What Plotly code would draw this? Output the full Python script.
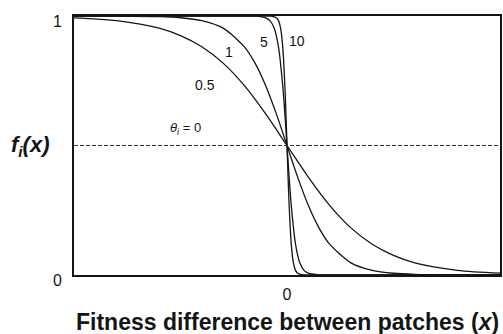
import plotly.graph_objects as go

# Values
x_05 = [-10, -8, -6, -5, -4, -3, -2, -1, 0, 1, 2, 3, 4, 5, 6, 8, 10]
y_05 = [0.993, 0.982, 0.953, 0.924, 0.881, 0.818, 0.731, 0.622, 0.5,
        0.378, 0.269, 0.182, 0.119, 0.076, 0.047, 0.018, 0.007]

x_1 = [-10, -8, -6, -5, -4, -3, -2, -1.5, -1, -0.5, 0, 0.5, 1, 1.5, 2, 3, 4, 5, 6, 8, 10]
y_1 = [1.0, 0.9997, 0.9975, 0.9933, 0.982, 0.953, 0.881, 0.818, 0.731, 0.622, 0.5,
       0.378, 0.269, 0.182, 0.119, 0.047, 0.018, 0.0067, 0.0025, 0.0003, 0.0]

x_5 = [-10, -3, -2, -1.5, -1, -0.8, -0.6, -0.4, -0.2, -0.1, 0, 0.1, 0.2, 0.4, 0.6, 0.8, 1, 1.5, 2, 3, 10]
y_5 = [1.0, 1.0, 0.99995, 0.9994, 0.993, 0.982, 0.953, 0.881, 0.731, 0.622, 0.5,
       0.378, 0.269, 0.119, 0.047, 0.018, 0.007, 0.0006, 0.00005, 0.0, 0.0]

x_10 = [-10, -1.5, -1, -0.75, -0.5, -0.4, -0.3, -0.2, -0.1, -0.05, 0, 0.05, 0.1, 0.2, 0.3, 0.4, 0.5, 0.75, 1, 1.5, 10]
y_10 = [1.0, 1.0, 0.99995, 0.9994, 0.993, 0.982, 0.953, 0.881, 0.731, 0.622, 0.5,
        0.378, 0.269, 0.119, 0.047, 0.018, 0.007, 0.0006, 0.00005, 0.0, 0.0]

x_0 = [-10, 10]
y_0 = [0.5, 0.5]

curve_labels = ["0.5", "1", "5", "10"]
label_pos_x = [-3.85, -2.7, -1.1, 0.45]
label_pos_y = [0.735, 0.86, 0.9, 0.905]

FONT = "Liberation Sans, Arial"
INK = "#151515"

fig = go.Figure()
for xs, ys in [(x_05, y_05), (x_1, y_1), (x_5, y_5), (x_10, y_10)]:
    fig.add_trace(go.Scatter(x=xs, y=ys, mode="lines",
                             line=dict(color=INK, width=1.3, shape="spline", smoothing=0.8),
                             showlegend=False, hoverinfo="skip"))
fig.add_trace(go.Scatter(x=x_0, y=y_0, mode="lines",
                         line=dict(color="#333333", width=1, dash="4px,2px"),
                         showlegend=False, hoverinfo="skip"))

for t, lx, ly in zip(curve_labels, label_pos_x, label_pos_y):
    fig.add_annotation(x=lx, y=ly, text=t, showarrow=False,
                       font=dict(family=FONT, size=14, color=INK))

fig.add_annotation(x=-4.75, y=0.565, text="<i>θ<sub>i</sub></i> = 0", showarrow=False,
                   font=dict(family=FONT, size=13, color=INK))

fig.add_annotation(xref="paper", yref="paper", x=-0.152, xanchor="left", y=0.5,
                   text="<b><i>f<sub>i</sub>(x)</i></b>", showarrow=False,
                   font=dict(family=FONT, size=22, color=INK))
fig.add_annotation(xref="paper", yref="paper", x=0.5, y=-0.125, yanchor="top",
                   text="<b>Fitness difference between patches (<i>x</i>)</b>", showarrow=False,
                   font=dict(family=FONT, size=23, color=INK))

fig.update_layout(
    width=503, height=334,
    margin=dict(l=74, r=1, t=16, b=59),
    paper_bgcolor="white", plot_bgcolor="white",
    xaxis=dict(range=[-10, 10], tickvals=[0], ticktext=["0"], showgrid=False, zeroline=False,
               showline=True, mirror=True, linecolor=INK, linewidth=1.6,
               ticks="", ticklen=0, ticklabelstandoff=4,
               tickfont=dict(family=FONT, size=16, color=INK)),
    yaxis=dict(range=[0, 1], tickvals=[0, 1], ticktext=["0", "1"], showgrid=False, zeroline=False,
               showline=True, mirror=True, linecolor=INK, linewidth=1.6,
               ticks="", ticklen=0, ticklabelstandoff=7, ticklabelshift=5,
               tickfont=dict(family=FONT, size=16, color=INK)),
)

fig.write_html("out.html", config={"displayModeBar": False})

with open("out.html", "r", encoding="utf-8") as f:
    html = f.read()
html = html.replace("<head>", "<head><style>html,body{margin:0;padding:0;overflow:hidden;}</style>", 1)
with open("out.html", "w", encoding="utf-8") as f:
    f.write(html)
